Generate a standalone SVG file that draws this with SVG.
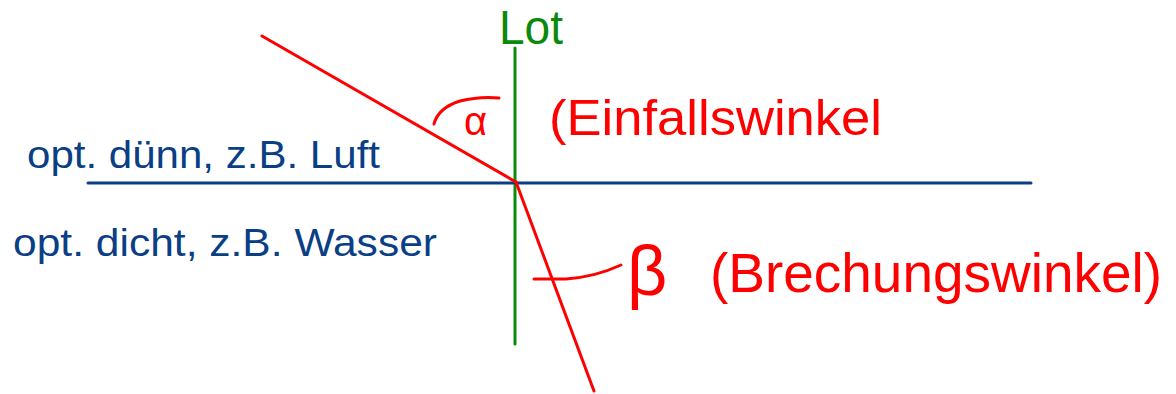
<svg xmlns="http://www.w3.org/2000/svg" width="1176" height="394" viewBox="0 0 1176 394">
<style>
.t{font-family:"Liberation Sans","DejaVu Sans",sans-serif;}
.red{fill:#ff0000;}
.blue{fill:#0a3f85;}
.green{fill:#0a8a0a;}
.ln{fill:none;stroke-width:3;stroke-linecap:round;}
</style>
<rect width="1176" height="394" fill="#ffffff"/>
<g id="connectors">
<line class="ln" x1="515" y1="48" x2="515" y2="344" stroke="#0a8a0a"/>
<line class="ln" x1="88" y1="183" x2="1031" y2="183" stroke="#0a3f85"/>
<line class="ln" x1="262" y1="36" x2="516" y2="182" stroke="#ff0000"/>
<line class="ln" x1="516" y1="182" x2="594" y2="391" stroke="#ff0000"/>
<path class="ln" d="M434,124 Q438,108 460,101 Q480,96 499,98" stroke="#ff0000"/>
<path class="ln" d="M534,279 L566,279 Q595,277 621,265" stroke="#ff0000"/>
</g>
<g id="lot"><text class="t green" x="499" y="44" font-size="48" textLength="64" lengthAdjust="spacingAndGlyphs">Lot</text></g>
<g id="alpha"><text class="t red" x="464" y="135" font-size="40">α</text></g>
<g id="einfallswinkel"><text class="t red" x="549" y="135" font-size="50" textLength="333" lengthAdjust="spacingAndGlyphs">(Einfallswinkel</text></g>
<g id="beta"><text class="t red" x="627" y="295" font-size="70">β</text></g>
<g id="brechungswinkel"><text class="t red" x="710" y="292" font-size="55" textLength="452" lengthAdjust="spacingAndGlyphs">(Brechungswinkel)</text></g>
<g id="duenn"><text class="t blue" x="27" y="168" font-size="38" textLength="353" lengthAdjust="spacingAndGlyphs">opt. dünn, z.B. Luft</text></g>
<g id="dicht"><text class="t blue" x="13" y="256" font-size="38" textLength="424" lengthAdjust="spacingAndGlyphs">opt. dicht, z.B. Wasser</text></g>
</svg>
